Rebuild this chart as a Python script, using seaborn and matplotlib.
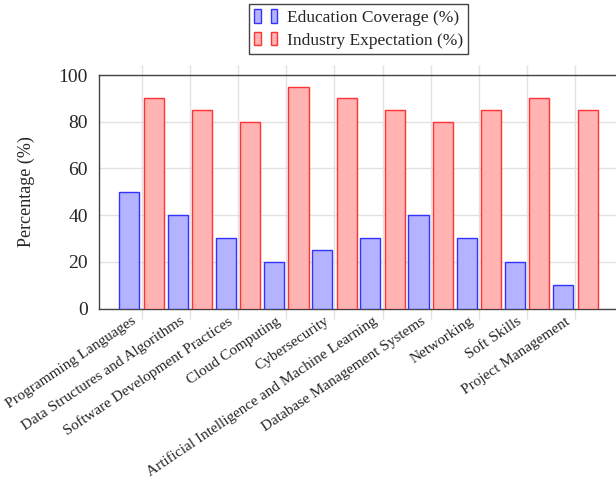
import matplotlib
matplotlib.use("Agg")
import matplotlib.pyplot as plt
import matplotlib.transforms as mtransforms
from matplotlib.legend_handler import HandlerBase
from matplotlib.patches import Rectangle
import pandas as pd
import seaborn as sns

# ---- data -------------------------------------------------------------
skills = [
    "Programming Languages",
    "Data Structures and Algorithms",
    "Software Development Practices",
    "Cloud Computing",
    "Cybersecurity",
    "Artificial Intelligence and Machine Learning",
    "Database Management Systems",
    "Networking",
    "Soft Skills",
    "Project Management",
]
education_coverage = [50, 40, 30, 20, 25, 30, 40, 30, 20, 10]
industry_expectation = [90, 85, 80, 95, 90, 85, 80, 85, 90, 85]
series_names = ["Education Coverage (%)", "Industry Expectation (%)"]
y_ticks = [0, 20, 40, 60, 80, 100]

# ---- styling ----------------------------------------------------------
fill_colors = ["#b3b3ff", "#ffb3b3"]
edge_colors = ["#3333ff", "#ff3333"]
grid_color = "#e2e2e2"
frame_color = "#444444"

sns.set_theme(style="white")
plt.rcParams["font.family"] = ["Liberation Serif", "DejaVu Serif"]

df = pd.DataFrame({
    "Skill": skills * 2,
    "Percentage": education_coverage + industry_expectation,
    "Series": [series_names[0]] * len(skills) + [series_names[1]] * len(skills),
})

fig = plt.figure(figsize=(6.16, 4.83), dpi=100)
ax = fig.add_axes([99 / 616, 1 - 308.5 / 483, 519 / 616, 233.5 / 483])

sns.barplot(
    data=df, x="Skill", y="Percentage", hue="Series",
    order=skills, hue_order=series_names,
    palette=fill_colors, saturation=1,
    width=1.02, gap=0.18, linewidth=1.0,
    legend=False, ax=ax, zorder=3,
)
for container, ec in zip(ax.containers, edge_colors):
    for bar in container:
        bar.set_edgecolor(ec)
        bar.set_linewidth(1.0)

ax.set_xlim(-0.886, len(skills) - 1 + 0.886)
ax.set_ylim(0, 100)
ax.set_yticks(y_ticks)
ax.set_axisbelow(True)
ax.grid(True, color=grid_color, linewidth=1.0)

for side in ["left", "top", "bottom", "right"]:
    ax.spines[side].set_visible(True)
    ax.spines[side].set_color(frame_color)
    ax.spines[side].set_linewidth(1.0)

ax.tick_params(axis="y", length=0, pad=8, labelsize=14)
ax.tick_params(axis="x", direction="out", length=7, width=1.0,
               color=grid_color, top=True, bottom=True, pad=3.5, labelsize=11)
ax.set_xticks(range(len(skills)))
ax.set_xticklabels(skills, rotation=34, ha="right", va="baseline",
                   rotation_mode="anchor")
shift = mtransforms.ScaledTranslation(-5 / 100, 0, fig.dpi_scale_trans)
for lbl in ax.get_xticklabels():
    lbl.set_transform(lbl.get_transform() + shift)

ax.set_xlabel("")
ax.set_ylabel("Percentage (%)", fontsize=13)
ax.yaxis.set_label_coords(-0.123, 0.5)


class TwoBarHandler(HandlerBase):
    """Legend key drawn as two small bars, one after the other."""

    def create_artists(self, legend, orig_handle, xdescent, ydescent,
                       width, height, fontsize, trans):
        bw = width * 0.28
        artists = []
        for x0 in (-xdescent, -xdescent + width - bw):
            r = Rectangle((x0, -ydescent), bw, height,
                          facecolor=orig_handle.get_facecolor(),
                          edgecolor=orig_handle.get_edgecolor(),
                          linewidth=1.0, transform=trans)
            artists.append(r)
        return artists


handles = [Rectangle((0, 0), 1, 1, facecolor=fc, edgecolor=ec)
           for fc, ec in zip(fill_colors, edge_colors)]
leg = ax.legend(
    handles, series_names, loc="lower center",
    bbox_to_anchor=(0.5, 1 + 21 / 233.5), borderaxespad=0,
    handler_map={Rectangle: TwoBarHandler()},
    fontsize=12.5, handlelength=1.35, handleheight=0.8, handletextpad=0.55,
    labelspacing=0.35, borderpad=0.3, fancybox=False, framealpha=1,
    edgecolor=frame_color,
)
leg.get_frame().set_linewidth(1.0)

fig.savefig("out.png", dpi=100)
